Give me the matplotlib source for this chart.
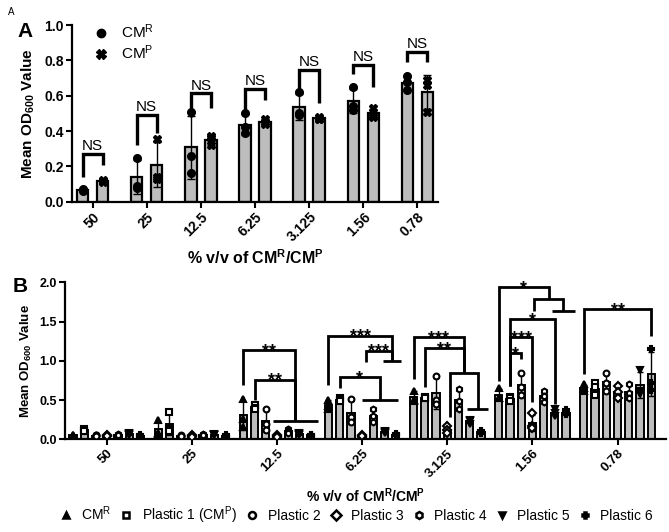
import numpy as np
import matplotlib.pyplot as plt
from matplotlib.lines import Line2D

plt.rcParams['font.family'] = 'Liberation Sans'
plt.rcParams['mathtext.fontset'] = 'custom'
plt.rcParams['mathtext.rm'] = 'Liberation Sans'
plt.rcParams['mathtext.bf'] = 'Liberation Sans:bold'
plt.rcParams['mathtext.it'] = 'Liberation Sans:italic'

concs = ['50', '25', '12.5', '6.25', '3.125', '1.56', '0.78']

# panel A: three replicate OD600 readings per concentration
cmr_a = [[0.06, 0.065, 0.07], [0.25, 0.09, 0.08], [0.505, 0.26, 0.16], [0.50, 0.42, 0.39],
         [0.62, 0.50, 0.49], [0.65, 0.54, 0.52], [0.71, 0.68, 0.63]]
cmp_a = [[0.11, 0.115, 0.12], [0.355, 0.13, 0.14], [0.37, 0.36, 0.32], [0.47, 0.45, 0.44],
         [0.48, 0.47, 0.47], [0.53, 0.48, 0.49], [0.69, 0.66, 0.51]]
ns_top = [0.27, 0.49, 0.613, 0.64, 0.745, 0.774, 0.85]
ns_left = [0.14, 0.32, 0.48, 0.52, 0.63, 0.72, 0.79]
ns_right = [0.21, 0.39, 0.53, 0.575, 0.557, 0.647, 0.79]

# panel B: replicates per concentration for each sample
b_cmr = [[0.06, 0.05, 0.04], [0.25, 0.08, 0.07], [0.51, 0.26, 0.15], [0.50, 0.42, 0.38],
         [0.62, 0.50, 0.49], [0.65, 0.53, 0.52], [0.70, 0.65, 0.62]]
b_p1 = [[0.13, 0.11, 0.11], [0.35, 0.13, 0.10], [0.44, 0.40, 0.39], [0.52, 0.50, 0.49],
        [0.54, 0.52, 0.52], [0.54, 0.52, 0.49], [0.72, 0.66, 0.56]]
b_p2 = [[0.05, 0.05, 0.04], [0.05, 0.04, 0.04], [0.39, 0.20, 0.12], [0.51, 0.29, 0.22],
        [0.81, 0.50, 0.45], [0.84, 0.66, 0.57], [0.85, 0.72, 0.62]]
b_p3 = [[0.05, 0.04, 0.04], [0.05, 0.04, 0.03], [0.06, 0.04, 0.03], [0.05, 0.03, 0.04],
        [0.17, 0.12, 0.08], [0.33, 0.17, 0.14], [0.68, 0.60, 0.52]]
b_p4 = [[0.07, 0.06, 0.05], [0.07, 0.06, 0.05], [0.13, 0.10, 0.08], [0.38, 0.30, 0.22],
        [0.64, 0.49, 0.38], [0.62, 0.55, 0.47], [0.70, 0.59, 0.53]]
b_p5 = [[0.08, 0.07, 0.06], [0.07, 0.06, 0.05], [0.08, 0.07, 0.06], [0.10, 0.09, 0.08],
        [0.25, 0.23, 0.20], [0.38, 0.34, 0.30], [0.88, 0.62, 0.58]]
b_p6 = [[0.05, 0.04, 0.04], [0.05, 0.04, 0.03], [0.06, 0.05, 0.04], [0.07, 0.06, 0.05],
        [0.11, 0.09, 0.08], [0.37, 0.33, 0.32], [1.15, 0.72, 0.63]]
b_series = [b_cmr, b_p1, b_p2, b_p3, b_p4, b_p5, b_p6]
b_names = ['CM$^\\mathrm{R}$', 'Plastic 1 (CM$^\\mathrm{P}$)', 'Plastic 2', 'Plastic 3',
           'Plastic 4', 'Plastic 5', 'Plastic 6']
b_markers = ['^', 's', 'o', 'D', 'h', 'v', 'P']
b_filled = [True, False, False, False, False, True, True]

# significance annotations in panel B: (group, left offset, right offset, top, left end, right end, label)
b_brackets = [
    (2, -0.396, 0.217, 1.14, 0.69, 0.23, '**'),
    (2, -0.264, 0.217, 0.76, 0.50, 0.23, '**'),
    (3, -0.396, 0.353, 1.32, 0.69, 1.00, '***'),
    (3, 0.04, 0.353, 1.13, 0.98, 1.00, '***'),
    (3, -0.264, 0.212, 0.79, 0.65, 0.50, '*'),
    (4, 0.027, 0.357, 0.85, 0.28, 0.39, ''),
    (4, -0.396, 0.192, 1.30, 0.77, 0.85, '***'),
    (4, -0.264, 0.192, 1.16, 0.67, 0.85, '**'),
    (5, 0.016, 0.365, 1.79, 1.63, 1.63, ''),
    (5, -0.396, 0.19, 1.94, 0.74, 1.79, '*'),
    (5, -0.264, 0.264, 1.53, 0.68, 0.45, '*'),
    (5, -0.264, 0.0, 1.30, 0.68, 0.47, '***'),
    (5, -0.264, -0.132, 1.10, 0.68, 1.02, '*'),
    (6, -0.396, 0.396, 1.66, 0.83, 1.32, '**'),
]
# horizontal bars grouping several samples: (group, left offset, right offset, y)
b_tbars = [(2, -0.047, 0.482, 0.23), (3, 0.247, 0.459, 1.00), (3, -0.004, 0.427, 0.50),
           (4, 0.232, 0.482, 0.39), (5, 0.232, 0.497, 1.63)]

bar_color = '#bdbdbd'


def style_axis(ax, xsize, ysize):
    for s in ['top', 'right']:
        ax.spines[s].set_visible(False)
    for s in ['left', 'bottom']:
        ax.spines[s].set_linewidth(1.6)
    ax.tick_params(width=1.5, length=4, pad=2)
    ax.tick_params(axis='x', labelsize=xsize)
    ax.tick_params(axis='y', labelsize=ysize)
    for lab in ax.get_yticklabels() + ax.get_xticklabels():
        lab.set_fontweight('bold')


def bracket(ax, xl, xr, yt, yl, yr, lw=2.2):
    ax.plot([xl, xl, xr, xr], [yl, yt, yt, yr], color='black', lw=lw,
            solid_joinstyle='miter', solid_capstyle='butt', clip_on=False, zorder=6)


fig = plt.figure(figsize=(6.69, 5.32), dpi=100)

# ---------------- panel A ----------------
axA = fig.add_axes([0.1076, 0.6209, 0.5471, 0.3321])
x = np.arange(len(concs))
off, w = 0.185, 0.21
for data, dx, mk in [(cmr_a, -off, 'o'), (cmp_a, off, 'X')]:
    means = [np.mean(p) for p in data]
    sds = [np.std(p, ddof=1) for p in data]
    axA.bar(x + dx, means, width=w, color=bar_color, edgecolor='black', linewidth=1.6, zorder=2)
    axA.errorbar(x + dx, means, yerr=sds, fmt='none', ecolor='black', elinewidth=1,
                 capsize=3, capthick=1, zorder=3)
    for xi, pts in zip(x, data):
        axA.plot([xi + dx] * 3, pts, mk, color='black', ms=5.5, mec='black', zorder=4)

for i in range(len(concs)):
    bracket(axA, x[i] - off, x[i] + off, ns_top[i], ns_left[i], ns_right[i], lw=2.4)
    axA.annotate('NS', (x[i], ns_top[i]), xytext=(0, 0.5), textcoords='offset points',
                 ha='center', va='bottom', fontsize=11)

axA.set_xlim(-0.38, 6.38)
axA.set_ylim(0, 1.0)
axA.set_yticks(np.arange(0, 1.01, 0.2))
axA.set_yticklabels([f'{v:.1f}' for v in np.arange(0, 1.01, 0.2)])
axA.set_xticks(x)
axA.set_xticklabels(concs, rotation=45, ha='right', rotation_mode='anchor')
style_axis(axA, 10, 10)
axA.set_ylabel('Mean OD$_\\mathbf{600}$ Value', fontsize=11, fontweight='bold', labelpad=5)
axA.set_xlabel('% v/v of CM$^\\mathbf{R}$/CM$^\\mathbf{P}$', fontsize=11.5, fontweight='bold',
               labelpad=3)
legA = [Line2D([], [], marker='o', ls='none', color='black', ms=6),
        Line2D([], [], marker='X', ls='none', color='black', ms=6.5)]
axA.legend(legA, ['CM$^\\mathrm{R}$', 'CM$^\\mathrm{P}$'], loc='upper left',
           bbox_to_anchor=(0.02, 1.09), frameon=False, fontsize=11, handlelength=1.0,
           handletextpad=0.8, labelspacing=0.15)

# ---------------- panel B ----------------
axB = fig.add_axes([0.0972, 0.1743, 0.8984, 0.2951])
d, wb = 0.132, 0.085
legB = []
for k, (data, mk, filled) in enumerate(zip(b_series, b_markers, b_filled)):
    pos = x + (k - 3) * d
    means = [np.mean(p) for p in data]
    sds = [np.std(p, ddof=1) for p in data]
    axB.bar(pos, means, width=wb, color=bar_color, edgecolor='black', linewidth=1.4, zorder=2)
    axB.errorbar(pos, means, yerr=sds, fmt='none', ecolor='black', elinewidth=1,
                 capsize=2.5, capthick=1, zorder=3)
    mfc = 'black' if filled else 'white'
    for xi, pts in zip(pos, data):
        axB.plot([xi] * 3, pts, mk, ms=4.2, mfc=mfc, mec='black', mew=1.5, zorder=4)
    legB.append(Line2D([], [], marker=mk, ls='none', ms=5, mfc=mfc, mec='black', mew=1.8))

for g, lo, ro, yt, yl, yr, lab in b_brackets:
    bracket(axB, g + lo, g + ro, yt, yl, yr, lw=2.0)
    if lab:
        axB.annotate(lab, ((2 * g + lo + ro) / 2, yt), xytext=(0, -4.2),
                     textcoords='offset points', ha='center', va='baseline',
                     fontsize=13, fontweight='bold', annotation_clip=False)
for g, lo, ro, y in b_tbars:
    axB.plot([g + lo, g + ro], [y, y], color='black', lw=2.0, solid_capstyle='butt',
             clip_on=False, zorder=6)

axB.set_xlim(-0.49, 6.57)
axB.set_ylim(0, 2.0)
axB.set_yticks(np.arange(0, 2.01, 0.5))
axB.set_yticklabels([f'{v:.1f}' for v in np.arange(0, 2.01, 0.5)])
axB.set_xticks(x)
axB.set_xticklabels(concs, rotation=45, ha='right', rotation_mode='anchor')
style_axis(axB, 9.5, 9)
axB.set_ylabel('Mean OD$_\\mathbf{600}$ Value', fontsize=9.5, fontweight='bold', labelpad=4)
axB.set_xlabel('% v/v of CM$^\\mathbf{R}$/CM$^\\mathbf{P}$', fontsize=10, fontweight='bold',
               labelpad=5)
fig.legend(legB, b_names, loc='center', bbox_to_anchor=(0.532, 0.032), ncol=7, frameon=False,
           fontsize=10, handlelength=1.0, handletextpad=0.6, columnspacing=0.6)

# panel letters
fig.text(0.012, 0.977, 'A', fontsize=7, ha='left', va='center')
fig.text(0.037, 0.94, 'A', fontsize=15, fontweight='bold', ha='center', va='center')
fig.text(0.030, 0.462, 'B', fontsize=15, fontweight='bold', ha='center', va='center')

fig.savefig('out.png', dpi=100)
